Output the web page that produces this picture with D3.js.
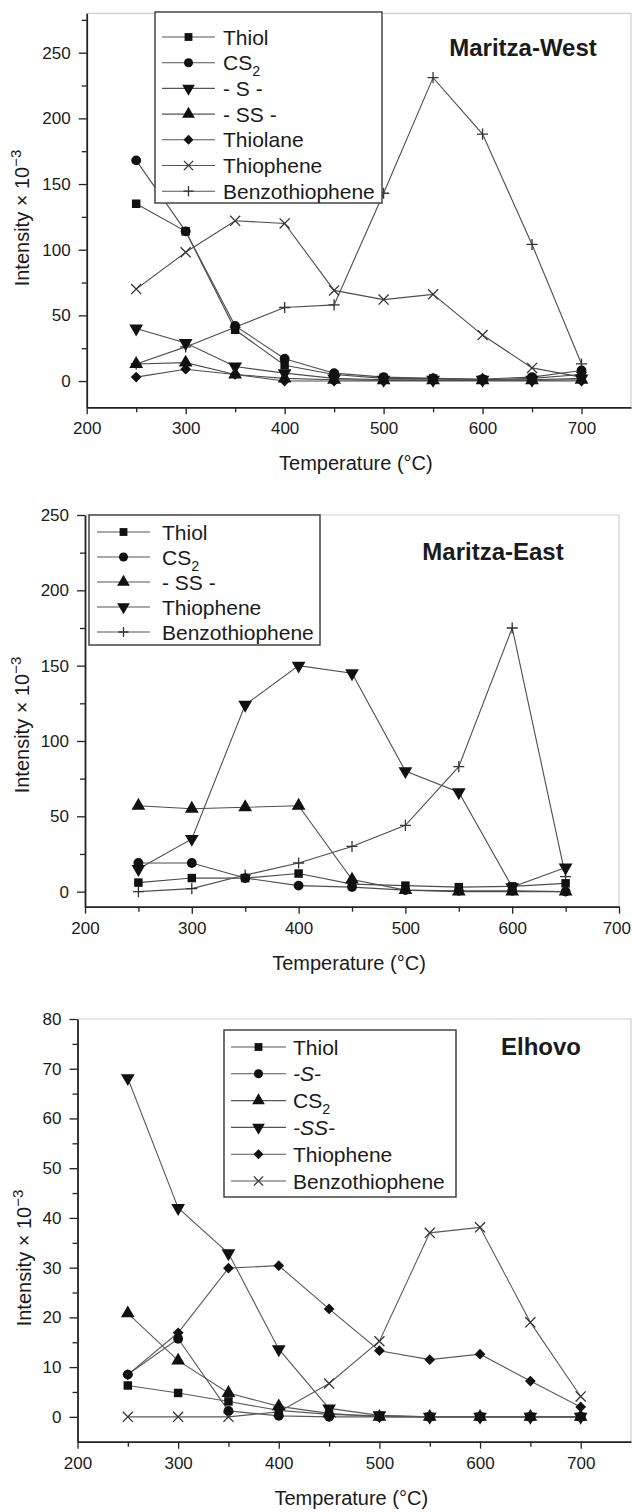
<!DOCTYPE html>
<html><head><meta charset="utf-8">
<script src="https://cdn.jsdelivr.net/npm/d3@7"></script>
<style>
body{margin:0;background:#fff}
svg{display:block}
text{font-family:"Liberation Sans",Arial,Helvetica,sans-serif;fill:#1a1a1a}
</style>
</head><body>
<svg id="c" width="632" height="1512"></svg>
<script>
// ---------------- DATA ----------------
// Maritza-West
const tempsWest = [250,300,350,400,450,500,550,600,650,700];
const westThiol     = [135,114,39,12,5,2,2,1,2,5];
const westCS2       = [168,114,42,17,6,3,2,1.5,3,8];
const westS         = [40,29,11,6,2,1,1,1,1,2];
const westSS        = [13,14,5,2,1,0.5,0.5,0.5,0.5,1];
const westThiolane  = [3,9,5,0,0,0,0,0,0,0];
const westThiophene = [70,98,122,120,69,62,66,35,10,3];
const westBenzo     = [13,26,41,56,58,143,231,188,104,13];
const westLabels = ["Thiol","CS_2","- S -","- SS -","Thiolane","Thiophene","Benzothiophene"];

// Maritza-East
const tempsEast = [250,300,350,400,450,500,550,600,650];
const eastThiol     = [6,9,9,12,5,4,3,3.5,5.5];
const eastCS2       = [19,19,9,4,3,1,0.5,0.5,0];
const eastSS        = [57,55,56,57,8,1,0,0,0];
const eastThiophene = [15,35,124,150,145,80,66,3,16];
const eastBenzo     = [0,2,11,19,30,44,83,175,10];
const eastLabels = ["Thiol","CS_2","- SS -","Thiophene","Benzothiophene"];

// Elhovo
const tempsElhovo = [250,300,350,400,450,500,550,600,650,700];
const elThiol     = [6.3,4.8,3.1,1.3,0.5,0.2,0,0,0,0];
const elS         = [8.5,15.7,1.2,0.2,0,0,0,0,0,0];
const elCS2       = [20.8,11.3,4.8,2.1,0.7,0,0,0,0,0];
const elSS        = [68.1,42,32.9,13.6,1.7,0.3,0,0,0,0];
const elThiophene = [8.5,16.9,29.9,30.4,21.7,13.3,11.5,12.6,7.2,2];
const elBenzo     = [0,0,0,1,6.7,15.2,37,38.1,19,4.1];
const elLabels = ["Thiol","-S-","CS_2","-SS-","Thiophene","Benzothiophene"];

// Tick values
const xTicksMajor = [200,300,400,500,600,700];
const xTicksMinor = [250,350,450,550,650];
const yTicksWest = [0,50,100,150,200,250];
const yMinorWest = [25,75,125,175,225,275];
const yTicksEast = [0,50,100,150,200,250];
const yMinorEast = [25,75,125,175,225];
const yTicksEl = [0,10,20,30,40,50,60,70,80];
const yMinorEl = [5,15,25,35,45,55,65,75];

// ---------------- DRAWING ----------------
const svg = d3.select("#c");
svg.append("rect").attr("width",632).attr("height",1512).attr("fill","#fff");

function markerPath(kind, k){
  switch(kind){
    case "square": return d3.symbol(d3.symbolSquare,72*k)();
    case "circle": return d3.symbol(d3.symbolCircle,76*k)();
    case "up": return d3.symbol(d3.symbolTriangle,82*k)();
    case "down": return d3.symbol(d3.symbolTriangle,82*k)();
    case "diamond": return d3.symbol(d3.symbolSquare,58*k)();
    case "x": return d3.symbol(d3.symbolTimes,68*k)();
    case "plus": return d3.symbol(d3.symbolPlus,42*k)();
  }
}
function drawMarker(g, kind, cx, cy, k){
  k = k || 1;
  const rot = kind==="down"?180:(kind==="diamond"?45:0);
  const stroked = (kind==="x"||kind==="plus");
  g.append("path").attr("d",markerPath(kind,k))
    .attr("transform",`translate(${cx},${cy}) rotate(${rot})`)
    .attr("fill",stroked?"none":"#111")
    .attr("stroke",stroked?"#333":"none")
    .attr("stroke-width",stroked?1.3:0);
}
function addLabel(t, label, size, italic){
  const m = label.split("_");
  t.append("tspan").text(m[0]);
  if(italic) t.attr("font-style","italic");
  if(m.length>1){
    t.append("tspan").attr("font-size",size*0.68).attr("dy",6).text(m[1]);
  }
}

function panel(cfg){
  const g = svg.append("g");
  const x = d3.scaleLinear().domain(cfg.xDomain).range([cfg.left,cfg.right]);
  const y = d3.scaleLinear().domain(cfg.yDomain).range([cfg.bottom,cfg.top]);

  // light frame top/right
  g.append("path")
    .attr("d",`M${cfg.left},${cfg.top}H${cfg.right}V${cfg.bottom}`)
    .attr("fill","none").attr("stroke","#cfcfcf").attr("stroke-width",1.2);

  // axes
  g.append("g").attr("transform",`translate(0,${cfg.bottom})`)
    .call(d3.axisBottom(x).tickValues(xTicksMajor).tickSize(7).tickSizeOuter(0).tickPadding(8).tickFormat(d3.format("d")));
  g.append("g").attr("transform",`translate(0,${cfg.bottom})`)
    .call(d3.axisBottom(x).tickValues(xTicksMinor).tickSize(5).tickSizeOuter(0).tickFormat(""))
    .select(".domain").remove();
  g.append("g").attr("transform",`translate(${cfg.left},0)`)
    .call(d3.axisLeft(y).tickValues(cfg.yMajor).tickSize(8).tickSizeOuter(0).tickPadding(8).tickFormat(d3.format("d")));
  g.append("g").attr("transform",`translate(${cfg.left},0)`)
    .call(d3.axisLeft(y).tickValues(cfg.yMinor).tickSize(5).tickSizeOuter(0).tickFormat(""))
    .select(".domain").remove();
  g.selectAll(".domain").attr("stroke","#222").attr("stroke-width",1.8);
  g.selectAll(".tick line").attr("stroke","#222").attr("stroke-width",1.3);
  g.selectAll(".tick text").attr("font-size",17).attr("fill","#1a1a1a")
    .attr("font-family",'"Liberation Sans",Arial,sans-serif')
    .each(function(){
      // keep edge labels inside the page
      const bb = this.getBBox();
      const tr = this.parentNode.getAttribute("transform");
      const m = /translate\(([-\d.]+)/.exec(tr);
      if(m){
        const cxp = +m[1];
        if(cxp + bb.width/2 > 631){ d3.select(this).attr("text-anchor","end").attr("x", 631-cxp); }
      }
    });

  // series
  const line = d3.line().x(d=>x(d[0])).y(d=>y(d[1]));
  cfg.series.forEach(s=>{
    const pts = cfg.temps.map((t,i)=>[t,s.values[i]]);
    g.append("path").attr("d",line(pts)).attr("fill","none")
      .attr("stroke",cfg.lineColor).attr("stroke-width",1.1);
  });
  cfg.series.slice().reverse().forEach(s=>{
    cfg.temps.forEach((t,i)=>drawMarker(g,s.marker,x(t),y(s.values[i])));
  });

  // legend
  const L = cfg.legend;
  g.append("rect").attr("x",L.x0).attr("y",L.y0).attr("width",L.x1-L.x0).attr("height",L.y1-L.y0)
    .attr("fill","#fff").attr("stroke","#444").attr("stroke-width",1.5);
  cfg.series.forEach((s,i)=>{
    const ry = L.row0 + i*L.step;
    g.append("line").attr("x1",L.lx0).attr("x2",L.lx1).attr("y1",ry).attr("y2",ry)
      .attr("stroke","#555").attr("stroke-width",1.1);
    drawMarker(g,s.marker,(L.lx0+L.lx1)/2,ry,0.85);
    const t = g.append("text").attr("x",L.tx).attr("y",ry+7.5).attr("font-size",21);
    addLabel(t,s.label,21,s.italic);
  });

  // title
  g.append("text").attr("x",cfg.titleX).attr("y",cfg.titleY).attr("text-anchor","middle")
    .attr("font-size",24).attr("font-weight","bold").text(cfg.title);

  // axis titles
  g.append("text").attr("x",(cfg.left+cfg.right)/2-3).attr("y",cfg.bottom+63)
    .attr("text-anchor","middle").attr("font-size",20).text("Temperature (\u00B0C)");
  const yl = g.append("text").attr("transform",`translate(${cfg.ylabX},${cfg.ylabY}) rotate(-90)`)
    .attr("text-anchor","middle").attr("font-size",20);
  yl.append("tspan").text("Intensity \u00D7 10");
  yl.append("tspan").attr("font-size",15).attr("dy",-8).text("\u22123");
}

panel({
  title:"Maritza-West", titleX:523, titleY:56,
  left:86.7, right:631, top:13.3, bottom:407.3,
  xDomain:[200,750], yDomain:[-20,280],
  yMajor:yTicksWest, yMinor:yMinorWest,
  ylabX:29, ylabY:218, lineColor:"#4d4d4d",
  temps:tempsWest,
  series:[
    {label:westLabels[0],values:westThiol,marker:"square"},
    {label:westLabels[1],values:westCS2,marker:"circle"},
    {label:westLabels[2],values:westS,marker:"down"},
    {label:westLabels[3],values:westSS,marker:"up"},
    {label:westLabels[4],values:westThiolane,marker:"diamond"},
    {label:westLabels[5],values:westThiophene,marker:"x"},
    {label:westLabels[6],values:westBenzo,marker:"plus"}
  ],
  legend:{x0:155,y0:12,x1:382,y1:203,row0:37,step:25.7,lx0:162,lx1:215,tx:223}
});

panel({
  title:"Maritza-East", titleX:493, titleY:560,
  left:85, right:619, top:515, bottom:906.7,
  xDomain:[200,700], yDomain:[-10,250],
  yMajor:yTicksEast, yMinor:yMinorEast,
  ylabX:29, ylabY:725, lineColor:"#4d4d4d",
  temps:tempsEast,
  series:[
    {label:eastLabels[0],values:eastThiol,marker:"square"},
    {label:eastLabels[1],values:eastCS2,marker:"circle"},
    {label:eastLabels[2],values:eastSS,marker:"up"},
    {label:eastLabels[3],values:eastThiophene,marker:"down"},
    {label:eastLabels[4],values:eastBenzo,marker:"plus"}
  ],
  legend:{x0:89,y0:515,x1:320,y1:645,row0:532,step:25,lx0:97,lx1:150,tx:162}
});

panel({
  title:"Elhovo", titleX:541, titleY:1055,
  left:77.5, right:631, top:1019, bottom:1441.7,
  xDomain:[200,750], yDomain:[-5,80],
  yMajor:yTicksEl, yMinor:yMinorEl,
  ylabX:31, ylabY:1258, lineColor:"#5a5a5a",
  temps:tempsElhovo,
  series:[
    {label:elLabels[0],values:elThiol,marker:"square"},
    {label:elLabels[1],values:elS,marker:"circle",italic:true},
    {label:elLabels[2],values:elCS2,marker:"up"},
    {label:elLabels[3],values:elSS,marker:"down",italic:true},
    {label:elLabels[4],values:elThiophene,marker:"diamond"},
    {label:elLabels[5],values:elBenzo,marker:"x"}
  ],
  legend:{x0:224,y0:1030,x1:456,y1:1197,row0:1047,step:26.8,lx0:231,lx1:286,tx:293}
});
</script>
</body></html>
